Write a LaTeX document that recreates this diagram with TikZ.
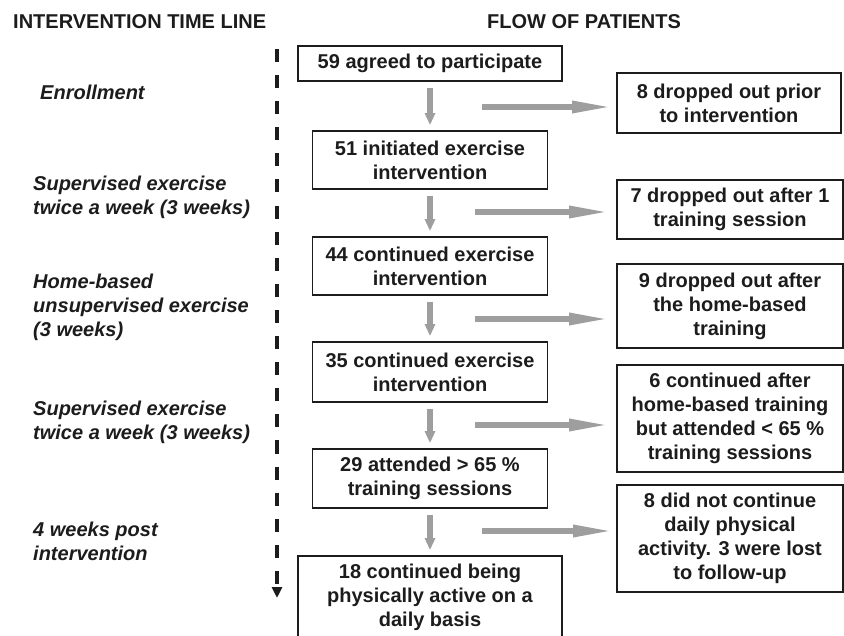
\documentclass[tikz,border=0pt]{standalone}
\usepackage{fontspec}
\setmainfont{Liberation Sans}
\usetikzlibrary{arrows.meta}
\definecolor{arrgray}{RGB}{158,158,158}
\definecolor{ink}{RGB}{28,28,28}
\begin{document}
\begin{tikzpicture}[x=1pt,y=-1pt,
  every node/.style={font=\fontsize{20}{24}\selectfont\bfseries, text=ink, inner sep=0pt},
  box/.style={draw=ink, line width=1.8pt, align=center, minimum width=235pt},
  wbox/.style={box, minimum width=264pt},
  rbox/.style={box, minimum width=226pt},
  hdr/.style={anchor=west},
  lbl/.style={anchor=west, align=left, font=\fontsize{20}{24}\selectfont\bfseries\itshape},
  down/.style={draw=arrgray, line width=6.5pt, -{Triangle[length=12pt,width=10pt]}, shorten <=6pt, shorten >=5pt},
  side/.style={draw=arrgray, line width=6pt, -{Triangle[length=42pt,width=11pt]}},
  tline/.style={draw=ink, line width=3.5pt, dash pattern=on 13pt off 13.1pt, -{Triangle[length=11pt,width=10pt]}}
]
\clip (0,0) rectangle (844,636);

% headers
\node[hdr] (h_left) at (13,21.5) {INTERVENTION TIME LINE};
\node[hdr] (h_right) at (487,21.5) {FLOW OF PATIENTS};

% time line labels
\node[lbl] (l1) at (40,92) {Enrollment};
\node[lbl] (l2) at (33,197) {Supervised exercise\\twice a week (3 weeks)};
\node[lbl] (l3) at (33,307) {Home-based\\unsupervised exercise\\(3 weeks)};
\node[lbl] (l4) at (33,422) {Supervised exercise\\twice a week (3 weeks)};
\node[lbl] (l5) at (33,541) {4 weeks post\\intervention};

% time line
\coordinate (t0) at (277,49);
\coordinate (t1) at (277,598);
\draw[tline] (t0) -- (t1);

% main column
\node[wbox, minimum height=35pt] (b1) at (430,63.5) {59 agreed to participate};
\node[box, minimum height=58pt] (b2) at (430,160) {51 initiated exercise\\intervention};
\node[box, minimum height=58pt] (b3) at (430,266) {44 continued exercise\\intervention};
\node[box, minimum height=60pt] (b4) at (430,372) {35 continued exercise\\intervention};
\node[box, minimum height=59pt] (b5) at (430,478.5) {29 attended > 65 \%\\training sessions};
\node[wbox, minimum height=82pt] (b6) at (430,597) {18 continued being\\physically active on a\\daily basis};

% right column
\node[rbox, minimum width=224pt, minimum height=60pt] (r1) at (729,103) {8 dropped out prior\\to intervention};
\node[rbox, minimum height=59pt] (r2) at (730,209.5) {7 dropped out after 1\\training session};
\node[rbox, minimum height=84pt] (r3) at (730,306) {9 dropped out after\\the home-based\\training};
\node[rbox, minimum height=107pt] (r4) at (730,418.5) {6 continued after\\home-based training\\but attended < 65 \%\\training sessions};
\node[rbox, minimum height=107pt] (r5) at (730,538.5) {8 did not continue\\daily physical\\activity. 3 were lost\\to follow-up};

% vertical arrows
\draw[down] (b1.south) -- (b2.north);
\draw[down] (b2.south) -- (b3.north);
\draw[down] (b3.south) -- (b4.north);
\draw[down] (b4.south) -- (b5.north);
\draw[down] (b5.south) -- (b6.north);

% side arrows
\coordinate (s1) at (482,107);
\coordinate (s2) at (475,212);
\coordinate (s3) at (475,319);
\coordinate (s4) at (475,425);
\coordinate (s5) at (482,531);
\draw[side, shorten >=2pt] (s1) -- (s1 -| r1.west);
\draw[side, shorten >=5pt] (s2) -- (s2 -| r2.west);
\draw[side, shorten >=5pt] (s3) -- (s3 -| r3.west);
\draw[side, shorten >=5pt] (s4) -- (s4 -| r4.west);
\draw[side, shorten >=1pt] (s5) -- (s5 -| r5.west);
\end{tikzpicture}
\end{document}
